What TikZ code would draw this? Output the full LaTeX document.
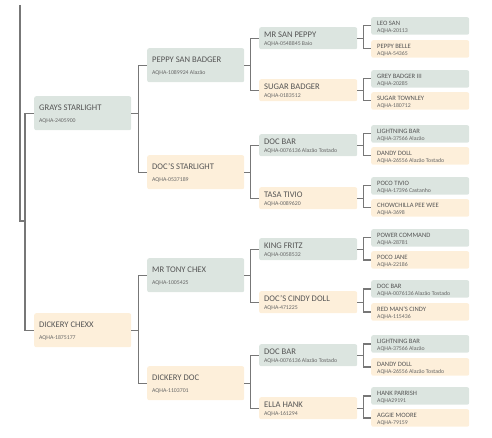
\documentclass[tikz,border=0pt]{standalone}
\usepackage{fontspec}
\setmainfont{Carlito}
\usetikzlibrary{calc}
\definecolor{gbox}{HTML}{DCE5E0}
\definecolor{obox}{HTML}{FDEFDA}
\definecolor{titlecol}{HTML}{555555}
\definecolor{idcol}{HTML}{666666}
\definecolor{lin}{HTML}{777777}
\tikzset{
  boxbase/.style={rounded corners=2pt, draw=none, inner sep=0pt, anchor=north west},
  bigbox/.style={boxbase, minimum width=97pt, minimum height=34pt},
  midbox/.style={boxbase, minimum width=98pt, minimum height=22pt},
  smallbox/.style={boxbase, minimum width=98pt, minimum height=17.5pt},
  txtbase/.style={inner sep=0pt, anchor=west, text depth=0pt},
  bigtitle/.style={txtbase, font=\fontsize{8.6}{9}\selectfont, text=titlecol, text height=5.5pt},
  smalltitle/.style={txtbase, font=\fontsize{6.6}{7}\selectfont, text=titlecol, text height=4.2pt},
  idtext/.style={txtbase, font=\fontsize{5.8}{6}\selectfont, text=idcol, text height=3.8pt},
  conn/.style={draw=lin, line width=1.1pt}
}
\newcommand\genbig[6]{%
  \node[bigbox, fill=#4] (#1) at (#2,#3) {};
  \node[bigtitle] (#1t) at ($(#1.north west)+(5,12)$) {#5};
  \node[idtext] (#1i) at ($(#1.north west)+(5,24.3)$) {#6};}
\newcommand\genmid[6]{%
  \node[midbox, fill=#4] (#1) at (#2,#3) {};
  \node[bigtitle] (#1t) at ($(#1.north west)+(5,7.7)$) {#5};
  \node[idtext] (#1i) at ($(#1.north west)+(5,16.5)$) {#6};}
\newcommand\gensmall[6]{%
  \node[smallbox, fill=#4] (#1) at (#2,#3) {};
  \node[smalltitle] (#1t) at ($(#1.north west)+(6,6.7)$) {#5};
  \node[idtext] (#1i) at ($(#1.north west)+(6,13.7)$) {#6};}
\begin{document}
\begin{tikzpicture}[x=1pt,y=-1pt]
\useasboundingbox (0,0) rectangle (492,438);
% generation 1
\genbig{grays}{34}{96}{gbox}{GRAYS STARLIGHT}{AQHA-2405900}
\genbig{dickc}{34}{313}{obox}{DICKERY CHEXX}{AQHA-1875177}
% generation 2
\genbig{peppy}{147}{48}{gbox}{PEPPY SAN BADGER}{AQHA-1089924 Alazão}
\genbig{docst}{147}{155}{obox}{DOC'S STARLIGHT}{AQHA-0537189}
\genbig{tony}{147}{258}{gbox}{MR TONY CHEX}{AQHA-1005425}
\genbig{dickd}{147}{366}{obox}{DICKERY DOC}{AQHA-1103701}
% generation 3
\genmid{msp}{259}{27}{gbox}{MR SAN PEPPY}{AQHA-0548845 Baio}
\genmid{sugb}{259}{79}{obox}{SUGAR BADGER}{AQHA-0183512}
\genmid{docbA}{259}{134}{gbox}{DOC BAR}{AQHA-0076136 Alazão Tostado}
\genmid{tasa}{259}{187}{obox}{TASA TIVIO}{AQHA-0089620}
\genmid{king}{259}{238}{gbox}{KING FRITZ}{AQHA-0058532}
\genmid{cindy}{259}{291}{obox}{DOC'S CINDY DOLL}{AQHA-471225}
\genmid{docbB}{259}{344}{gbox}{DOC BAR}{AQHA-0076136 Alazão Tostado}
\genmid{ella}{259}{397}{obox}{ELLA HANK}{AQHA-161294}
% generation 4
\gensmall{leo}{371}{17}{gbox}{LEO SAN}{AQHA-20113}
\gensmall{pbelle}{371}{40}{obox}{PEPPY BELLE}{AQHA-54365}
\gensmall{grey}{371}{70}{gbox}{GREY BADGER III}{AQHA-20285}
\gensmall{stown}{371}{92}{obox}{SUGAR TOWNLEY}{AQHA-180712}
\gensmall{lbarA}{371}{125}{gbox}{LIGHTNING BAR}{AQHA-37566 Alazão}
\gensmall{ddollA}{371}{147}{obox}{DANDY DOLL}{AQHA-26556 Alazão Tostado}
\gensmall{poco}{371}{177}{gbox}{POCO TIVIO}{AQHA-17396 Castanho}
\gensmall{chow}{371}{199}{obox}{CHOWCHILLA PEE WEE}{AQHA-3698}
\gensmall{power}{371}{229}{gbox}{POWER COMMAND}{AQHA-28781}
\gensmall{pjane}{371}{251}{obox}{POCO JANE}{AQHA-22186}
\gensmall{docbC}{371}{280}{gbox}{DOC BAR}{AQHA-0076136 Alazão Tostado}
\gensmall{redman}{371}{303}{obox}{RED MAN'S CINDY}{AQHA-115436}
\gensmall{lbarB}{371}{335}{gbox}{LIGHTNING BAR}{AQHA-37566 Alazão}
\gensmall{ddollB}{371}{358}{obox}{DANDY DOLL}{AQHA-26556 Alazão Tostado}
\gensmall{hank}{371}{387}{gbox}{HANK PARRISH}{AQHA29191}
\gensmall{aggie}{371}{409}{obox}{AGGIE MOORE}{AQHA-79159}
% root connector
\coordinate (rtop) at (20,5);
\coordinate (rbus) at (25,221);
\draw[conn] (rtop) |- (rbus);
\draw[conn] (rbus) |- (grays.west);
\draw[conn] (rbus) |- (dickc.west);
% gen1 -> gen2
\foreach \p/\a/\b in {grays/peppy/docst, dickc/tony/dickd}{
  \draw[conn] (\p.east) -- ++(7,0) |- (\a.west);
  \draw[conn] (\p.east) -- ++(7,0) |- (\b.west);
}
% gen2 -> gen3
\foreach \p/\a/\b in {peppy/msp/sugb, docst/docbA/tasa, tony/king/cindy, dickd/docbB/ella}{
  \draw[conn] (\p.east) -- ++(6,0) |- (\a.west);
  \draw[conn] (\p.east) -- ++(6,0) |- (\b.west);
}
% gen3 -> gen4
\foreach \p/\a/\b in {msp/leo/pbelle, sugb/grey/stown, docbA/lbarA/ddollA, tasa/poco/chow, king/power/pjane, cindy/docbC/redman, docbB/lbarB/ddollB, ella/hank/aggie}{
  \draw[conn] (\p.east) -- ++(6,0) |- (\a.west);
  \draw[conn] (\p.east) -- ++(6,0) |- (\b.west);
}
\end{tikzpicture}
\end{document}
